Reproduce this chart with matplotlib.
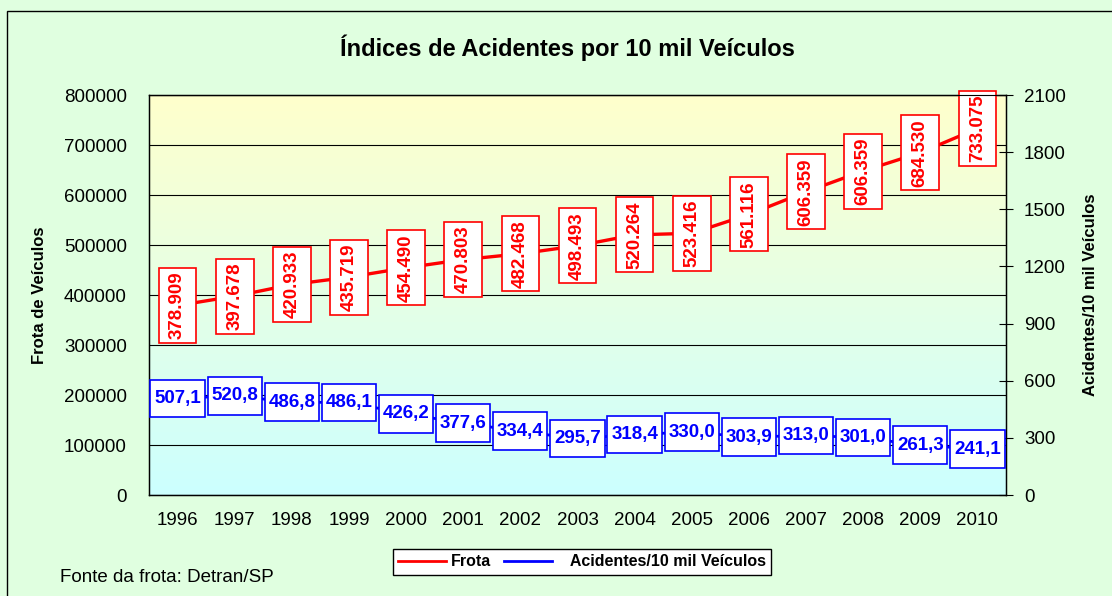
import numpy as np
import matplotlib.pyplot as plt
from matplotlib.patches import Rectangle
from matplotlib.lines import Line2D
from matplotlib.path import Path

plt.rcParams['font.family'] = ['Liberation Sans', 'DejaVu Sans']

anos = ['1996', '1997', '1998', '1999', '2000', '2001', '2002', '2003',
        '2004', '2005', '2006', '2007', '2008', '2009', '2010']
frota = [378909, 397678, 420933, 435719, 454490, 470803, 482468, 498493,
         520264, 523416, 561116, 606359, 648000, 684530, 733075]
frota_txt = ['378.909', '397.678', '420.933', '435.719', '454.490', '470.803',
             '482.468', '498.493', '520.264', '523.416', '561.116', '606.359',
             '606.359', '684.530', '733.075']
acid = [507.1, 520.8, 486.8, 486.1, 426.2, 377.6, 334.4, 295.7,
        318.4, 330.0, 303.9, 313.0, 301.0, 261.3, 241.1]


def caixa(x0, y0, width, height, mutation_size):
    # caixa com folga menor nas pontas do texto e maior nos lados
    px = 0.2 * mutation_size
    py = 0.55 * mutation_size
    x0, y0 = x0 - px, y0 - py
    x1, y1 = x0 + width + 2 * px, y0 + height + 2 * py
    return Path([(x0, y0), (x1, y0), (x1, y1), (x0, y1), (x0, y0)], closed=True)


fig = plt.figure(figsize=(11.12, 5.96), dpi=100)
fig.patch.set_facecolor('#E0FFE0')
fig.add_artist(Rectangle((7/1112, -0.1), 1.2, 1 - 11/596 + 0.1,
                         transform=fig.transFigure, fill=False,
                         edgecolor='black', lw=1))

ax = fig.add_axes([149/1112, 1 - 495/596, 857/1112, 400/596])
x = np.arange(len(anos))

# fundo em degrade amarelo -> ciano
grad = np.linspace(0, 1, 256).reshape(-1, 1)
top = np.array([1.0, 1.0, 0.80])
bot = np.array([0.80, 1.0, 1.0])
img = top[None, None, :] * (1 - grad[:, :, None]) + bot[None, None, :] * grad[:, :, None]
ax.imshow(img, extent=(-0.5, 14.5, 0, 800000), aspect='auto', zorder=0)

ax.set_xlim(-0.5, 14.5)
ax.set_ylim(0, 800000)
ax.set_yticks(np.arange(0, 800001, 100000))
ax.set_xticks(x)
ax.set_xticklabels(anos)
ax.tick_params(axis='both', length=0, labelsize=13.5)
ax.tick_params(axis='y', pad=16)
ax.tick_params(axis='x', pad=12)
ax.yaxis.grid(True, color='black', lw=0.8)
ax.set_axisbelow(False)
ax.set_ylabel('Frota de Veículos', fontsize=12, fontweight='bold', labelpad=12)
for s in ax.spines.values():
    s.set_linewidth(1)

ax.plot(x, frota, color='red', lw=2.4, zorder=3)
for xi, yi, t in zip(x, frota, frota_txt):
    ax.text(xi, yi, t, rotation=90, ha='center', va='center', color='red',
            fontsize=13.5, fontweight='bold', zorder=4,
            bbox=dict(boxstyle=caixa, fc='white', ec='red', lw=1.2))

ax2 = ax.twinx()
ax2.set_ylim(0, 2100)
ax2.set_yticks(np.arange(0, 2101, 300))
ax2.tick_params(axis='y', direction='inout', length=10, labelsize=13.5, pad=8)
ax2.set_ylabel('Acidentes/10 mil Veículos', fontsize=12, fontweight='bold', labelpad=12)
ax2.plot(x, acid, color='blue', lw=2, zorder=3)
for xi, yi in zip(x, acid):
    ax2.text(xi, yi, f'{yi:.1f}'.replace('.', ','), ha='center', va='center',
             color='blue', fontsize=13.5, fontweight='bold', zorder=4,
             bbox=dict(boxstyle=caixa, fc='white', ec='blue', lw=1.2))

fig.text(567/1112, 1 - 48/596, 'Índices de Acidentes por 10 mil Veículos',
         ha='center', va='center', fontsize=17, fontweight='bold')
fig.text(60/1112, 1 - 578/596, 'Fonte da frota: Detran/SP', ha='left',
         va='center', fontsize=13.5)

handles = [Line2D([], [], color='red', lw=2), Line2D([], [], color='blue', lw=2)]
leg = fig.legend(handles, ['Frota', '   Acidentes/10 mil Veículos'],
                 loc='center', bbox_to_anchor=(582/1112, 1 - 562/596), ncol=2,
                 fancybox=False, framealpha=1, edgecolor='black',
                 prop={'weight': 'bold', 'size': 11.5}, handlelength=3,
                 handletextpad=0.3, columnspacing=0.8, borderpad=0.35)
leg.get_frame().set_linewidth(1)

plt.savefig('out.png', dpi=100, facecolor=fig.get_facecolor())
